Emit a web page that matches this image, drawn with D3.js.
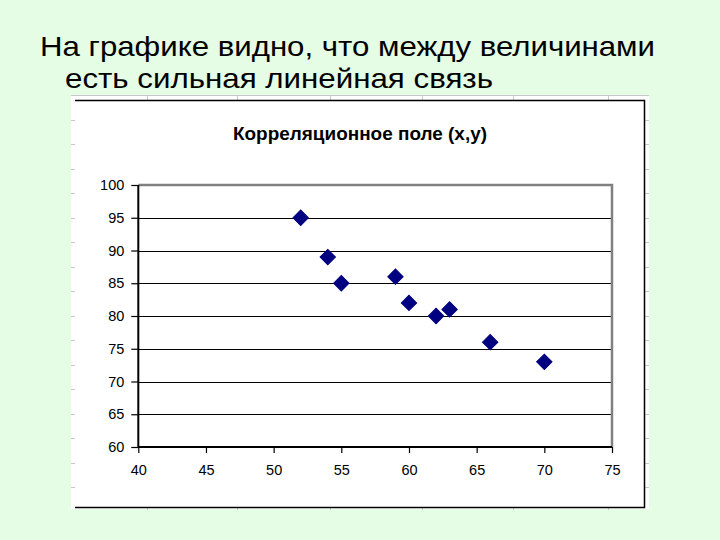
<!DOCTYPE html>
<html>
<head>
<meta charset="utf-8">
<script src="https://cdn.jsdelivr.net/npm/d3@7"></script>
<style>
  html, body { margin: 0; padding: 0; background: #e5fce5; }
  svg { display: block; }
</style>
</head>
<body>
<script>
// ---- data ----
const headingLines = ["На графике видно, что между величинами", "есть сильная линейная связь"];
const chartTitle = "Корреляционное поле (x,y)";
const xValues = [52, 54, 55, 59, 60, 62, 63, 66, 70];
const yValues = [95, 89, 85, 86, 82, 80, 81, 76, 73];
const xTicks = [40, 45, 50, 55, 60, 65, 70, 75];
const yTicks = [60, 65, 70, 75, 80, 85, 90, 95, 100];

const W = 720, H = 540;
const svg = d3.select("body").append("svg").attr("width", W).attr("height", H);

svg.append("rect").attr("width", W).attr("height", H).attr("fill", "#e5fce5");

// heading
svg.append("text").attr("x", 40).attr("y", 56)
  .attr("font-family", "Liberation Sans, Arial, sans-serif").attr("font-size", 28)
  .attr("textLength", 615).attr("lengthAdjust", "spacingAndGlyphs")
  .attr("fill", "#000").text(headingLines[0]);
svg.append("text").attr("x", 65).attr("y", 88)
  .attr("font-family", "Liberation Sans, Arial, sans-serif").attr("font-size", 28)
  .attr("textLength", 428).attr("lengthAdjust", "spacingAndGlyphs")
  .attr("fill", "#000").text(headingLines[1]);

// embedded object frame
svg.append("rect").attr("x", 71).attr("y", 95).attr("width", 578).attr("height", 414).attr("fill", "#fff");
svg.append("line").attr("x1", 71).attr("x2", 649).attr("y1", 95.5).attr("y2", 95.5)
  .attr("stroke", "#c8c8c8").attr("stroke-width", 1);
const frameCols = [147, 237, 330, 422, 513, 608];
const frameRows = d3.range(0, 16).map(k => 120 + k * 24.47);
const fg = svg.append("g").attr("stroke", "#c8c8c8").attr("stroke-width", 1);
frameCols.forEach(c => {
  fg.append("line").attr("x1", c + 0.5).attr("x2", c + 0.5).attr("y1", 95).attr("y2", 100);
  fg.append("line").attr("x1", c + 0.5).attr("x2", c + 0.5).attr("y1", 507).attr("y2", 510);
});
frameRows.forEach(r => {
  fg.append("line").attr("x1", 71).attr("x2", 75).attr("y1", Math.round(r) + 0.5).attr("y2", Math.round(r) + 0.5);
  fg.append("line").attr("x1", 644).attr("x2", 649).attr("y1", Math.round(r) + 0.5).attr("y2", Math.round(r) + 0.5);
});

// chart border (top, right, bottom)
svg.append("path").attr("d", "M75,100.5 H644.5 V507.5 H75")
  .attr("fill", "none").attr("stroke", "#000").attr("stroke-width", 1.5);

// title
svg.append("text").attr("x", 360).attr("y", 140).attr("text-anchor", "middle")
  .attr("font-family", "Liberation Sans, Arial, sans-serif").attr("font-size", 17.5).attr("font-weight", "bold")
  .attr("textLength", 254).attr("lengthAdjust", "spacingAndGlyphs")
  .attr("fill", "#000").text(chartTitle);

// scales
const x = d3.scaleLinear().domain([40, 75]).range([138.3, 612]);
const y = d3.scaleLinear().domain([60, 100]).range([447, 185]);

// gridlines
svg.append("g").selectAll("line").data(yTicks.filter(v => v > 60 && v < 100)).join("line")
  .attr("x1", x(40)).attr("x2", x(75))
  .attr("y1", d => Math.round(y(d)) + 0.5).attr("y2", d => Math.round(y(d)) + 0.5)
  .attr("stroke", "#000").attr("stroke-width", 1);

// plot border (gray top and right)
svg.append("path").attr("d", `M${x(40)},${y(100)} H${x(75)} V${y(60)}`)
  .attr("fill", "none").attr("stroke", "#808080").attr("stroke-width", 2.5);

// axes
const yAxis = d3.axisLeft(y).tickValues(yTicks).tickSize(7).tickPadding(7).tickFormat(d3.format("d"));
const gy = svg.append("g").attr("transform", `translate(${x(40)},0)`).call(yAxis);
const xAxis = d3.axisBottom(x).tickValues(xTicks).tickSize(6).tickPadding(12).tickFormat(d3.format("d"));
const gx = svg.append("g").attr("transform", `translate(0,${y(60)})`).call(xAxis);
[gx, gy].forEach(g => {
  g.select(".domain").attr("stroke", "#000").attr("stroke-width", 2);
  g.selectAll(".tick line").attr("stroke", "#000").attr("stroke-width", 1.2);
  g.selectAll("text").attr("font-family", "Liberation Sans, Arial, sans-serif")
    .attr("font-size", 14.5).attr("fill", "#000");
});
gy.select(".domain").attr("d", `M0,${y(100)}V${y(60)}`);
gx.select(".domain").attr("d", `M${x(40)},0H${x(75)}`);

// points (diamonds)
svg.append("g").selectAll("path").data(xValues.map((v, i) => [v, yValues[i]])).join("path")
  .attr("d", d3.symbol().type(d3.symbolSquare).size(118))
  .attr("transform", d => `translate(${x(d[0])},${y(d[1])}) rotate(45)`)
  .attr("fill", "#000080").attr("stroke", "#000080").attr("stroke-width", 1);
</script>
</body>
</html>
